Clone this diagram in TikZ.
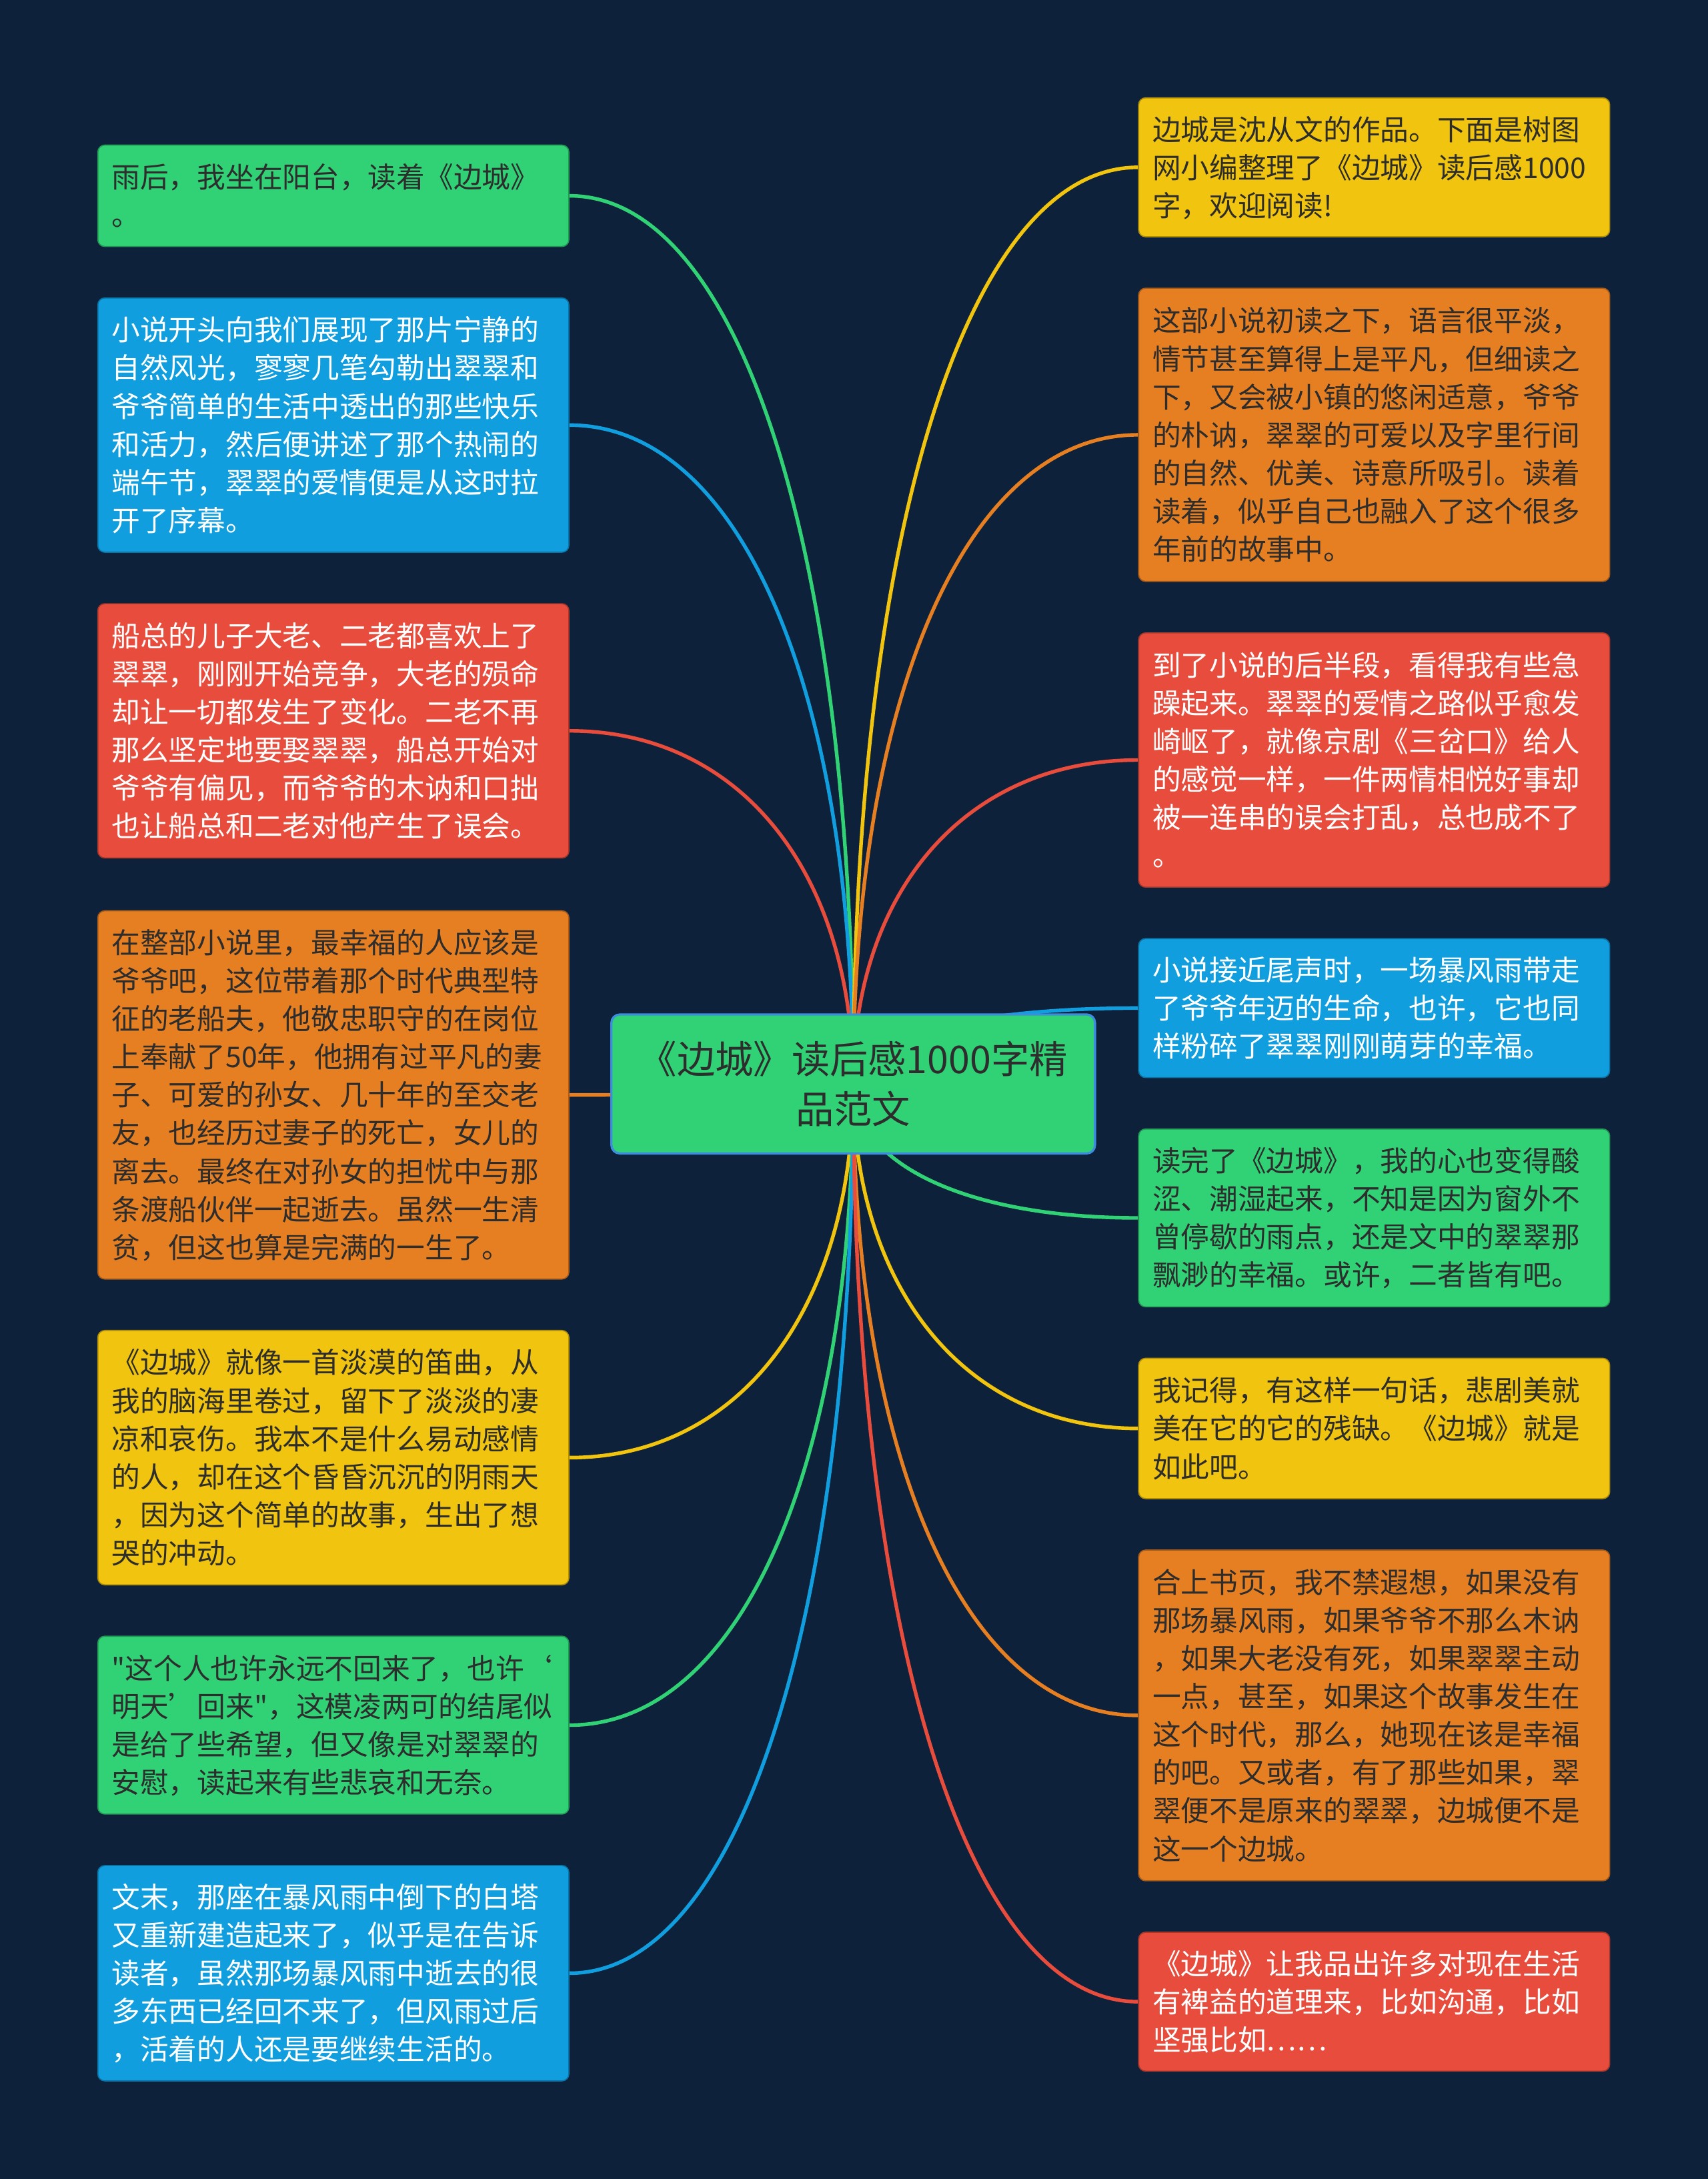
\documentclass[tikz,border=0pt]{standalone}
\usepackage{fontspec}
\setmainfont{Noto Sans CJK SC}[Ligatures=TeXOff]
\usetikzlibrary{calc}
\pgfdeclarelayer{bg}
\pgfdeclarelayer{lines}
\pgfsetlayers{bg,lines,main}
\definecolor{cbg}{HTML}{0E213A}
\definecolor{cgreen}{HTML}{31D175}
\definecolor{cblue}{HTML}{109EDF}
\definecolor{cred}{HTML}{E74C3C}
\definecolor{corange}{HTML}{E67E22}
\definecolor{cyellow}{HTML}{F1C40F}
\definecolor{cborder}{HTML}{3C8DDE}
\definecolor{cdark}{HTML}{2D2D2D}
\newcommand\bstrut{\rule[-5.9pt]{0pt}{27.4pt}}
\newcommand\cstrut{\rule[-7.5pt]{0pt}{36pt}}
\begin{document}
\begin{tikzpicture}[x=1pt,y=-1pt,
  box/.style={rounded corners=5pt, text width=319pt, inner xsep=10pt, inner ysep=0pt,
    align=left, anchor=north west, font=\fontsize{20.5pt}{27.4pt}\selectfont,
    line width=0.8pt, fill=#1, draw=#1!72!black},
  dark/.style={text=cdark},
  light/.style={text=white},
  conn/.style={line width=2.6pt, draw=#1},
  centre/.style={rounded corners=6pt, fill=cgreen, draw=cborder, line width=1.6pt,
    minimum width=348pt, minimum height=100pt, inner sep=0pt, align=center,
    font=\fontsize{27.5pt}{36pt}\selectfont, text=cdark}
]
\begin{pgfonlayer}{bg}
\fill[cbg] (0,0) rectangle (1229,1568);
\end{pgfonlayer}
\useasboundingbox (0,0) rectangle (1229,1568);

\node[centre] (c) at (614,780) {\cstrut《边城》读后感1000字精\\品范文\cstrut};

% left column
\node[box=cgreen, dark, minimum height=73pt] (L1) at (70,104)
 {\bstrut 雨后，我坐在阳台，读着《边城》\\。\bstrut};
\node[box=cblue, light, minimum height=183pt] (L2) at (70,214)
 {\bstrut 小说开头向我们展现了那片宁静的\\自然风光，寥寥几笔勾勒出翠翠和\\爷爷简单的生活中透出的那些快乐\\和活力，然后便讲述了那个热闹的\\端午节，翠翠的爱情便是从这时拉\\开了序幕。\bstrut};
\node[box=cred, light, minimum height=183pt] (L3) at (70,434)
 {\bstrut 船总的儿子大老、二老都喜欢上了\\翠翠，刚刚开始竞争，大老的殒命\\却让一切都发生了变化。二老不再\\那么坚定地要娶翠翠，船总开始对\\爷爷有偏见，而爷爷的木讷和口拙\\也让船总和二老对他产生了误会。\bstrut};
\node[box=corange, dark, minimum height=265pt] (L4) at (70,655)
 {\bstrut 在整部小说里，最幸福的人应该是\\爷爷吧，这位带着那个时代典型特\\征的老船夫，他敬忠职守的在岗位\\上奉献了50年，他拥有过平凡的妻\\子、可爱的孙女、几十年的至交老\\友，也经历过妻子的死亡，女儿的\\离去。最终在对孙女的担忧中与那\\条渡船伙伴一起逝去。虽然一生清\\贫，但这也算是完满的一生了。\bstrut};
\node[box=cyellow, dark, minimum height=183pt] (L5) at (70,957)
 {\bstrut 《边城》就像一首淡漠的笛曲，从\\我的脑海里卷过，留下了淡淡的凄\\凉和哀伤。我本不是什么易动感情\\的人，却在这个昏昏沉沉的阴雨天\\，因为这个简单的故事，生出了想\\哭的冲动。\bstrut};
\node[box=cgreen, dark, minimum height=128pt] (L6) at (70,1177)
 {\bstrut "这个人也许永远不回来了，也许‘\\明天’回来"，这模凌两可的结尾似\\是给了些希望，但又像是对翠翠的\\安慰，读起来有些悲哀和无奈。\bstrut};
\node[box=cblue, light, minimum height=155pt] (L7) at (70,1342)
 {\bstrut 文末，那座在暴风雨中倒下的白塔\\又重新建造起来了，似乎是在告诉\\读者，虽然那场暴风雨中逝去的很\\多东西已经回不来了，但风雨过后\\，活着的人还是要继续生活的。\bstrut};

% right column
\node[box=cyellow, dark, minimum height=100pt] (R1) at (819,70)
 {\bstrut 边城是沈从文的作品。下面是树图\\网小编整理了《边城》读后感1000\\字，欢迎阅读!\bstrut};
\node[box=corange, dark, minimum height=211pt] (R2) at (819,207)
 {\bstrut 这部小说初读之下，语言很平淡，\\情节甚至算得上是平凡，但细读之\\下，又会被小镇的悠闲适意，爷爷\\的朴讷，翠翠的可爱以及字里行间\\的自然、优美、诗意所吸引。读着\\读着，似乎自己也融入了这个很多\\年前的故事中。\bstrut};
\node[box=cred, light, minimum height=183pt] (R3) at (819,455)
 {\bstrut 到了小说的后半段，看得我有些急\\躁起来。翠翠的爱情之路似乎愈发\\崎岖了，就像京剧《三岔口》给人\\的感觉一样，一件两情相悦好事却\\被一连串的误会打乱，总也成不了\\。\bstrut};
\node[box=cblue, light, minimum height=100pt] (R4) at (819,675)
 {\bstrut 小说接近尾声时，一场暴风雨带走\\了爷爷年迈的生命，也许，它也同\\样粉碎了翠翠刚刚萌芽的幸福。\bstrut};
\node[box=cgreen, dark, minimum height=128pt] (R5) at (819,812)
 {\bstrut 读完了《边城》，我的心也变得酸\\涩、潮湿起来，不知是因为窗外不\\曾停歇的雨点，还是文中的翠翠那\\飘渺的幸福。或许，二者皆有吧。\bstrut};
\node[box=cyellow, dark, minimum height=101pt] (R6) at (819,977)
 {\bstrut 我记得，有这样一句话，悲剧美就\\美在它的它的残缺。《边城》就是\\如此吧。\bstrut};
\node[box=corange, dark, minimum height=238pt] (R7) at (819,1115)
 {\bstrut 合上书页，我不禁遐想，如果没有\\那场暴风雨，如果爷爷不那么木讷\\，如果大老没有死，如果翠翠主动\\一点，甚至，如果这个故事发生在\\这个时代，那么，她现在该是幸福\\的吧。又或者，有了那些如果，翠\\翠便不是原来的翠翠，边城便不是\\这一个边城。\bstrut};
\node[box=cred, light, minimum height=100pt] (R8) at (819,1390)
 {\bstrut 《边城》让我品出许多对现在生活\\有裨益的道理来，比如沟通，比如\\坚强比如……\bstrut};

\begin{pgfonlayer}{lines}
\foreach \b/\a/\col in {L1/east/cgreen, L2/east/cblue, L3/east/cred, L4/east/corange,
  L5/east/cyellow, L6/east/cgreen, L7/east/cblue,
  R1/west/cyellow, R2/west/corange, R3/west/cred, R4/west/cblue, R5/west/cgreen,
  R6/west/cyellow, R7/west/corange, R8/west/cred}{
  \draw[conn=\col] (c.center) .. controls ($(c.center)!0.6!(c.center |- \b.\a)$)
    and ($(\b.\a)!0.6!(\b.\a -| c.center)$) .. (\b.\a);
}
\end{pgfonlayer}
\end{tikzpicture}
\end{document}
